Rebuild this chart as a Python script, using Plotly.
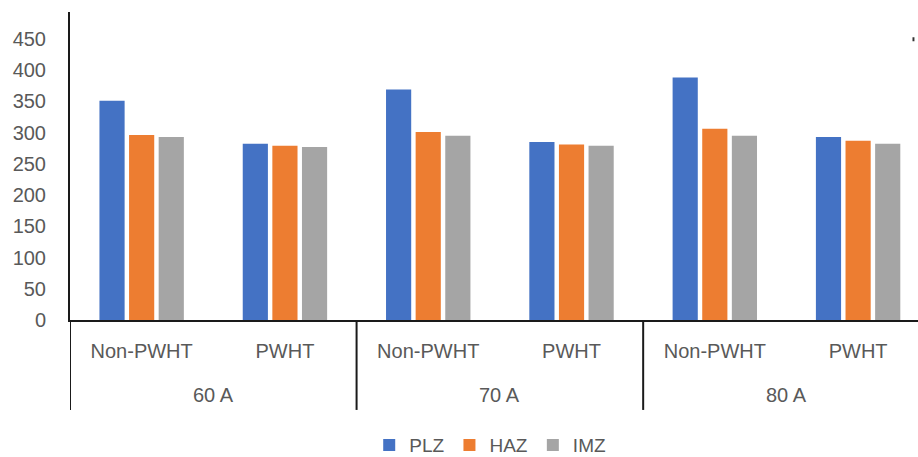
import plotly.graph_objects as go

# Welding current groups and heat-treatment condition for each bar cluster
currents = ["60 A", "70 A", "80 A"]
conditions = ["Non-PWHT", "PWHT", "Non-PWHT", "PWHT", "Non-PWHT", "PWHT"]

# Hardness per zone
plz = [351, 282, 369, 285, 388, 293]
haz = [296, 279, 301, 281, 306, 287]
imz = [293, 277, 295, 279, 295, 282]

y_ticks = [0, 50, 100, 150, 200, 250, 300, 350, 400, 450]

series = [
    ("PLZ", plz, "#4472C4"),
    ("HAZ", haz, "#ED7D31"),
    ("IMZ", imz, "#A5A5A5"),
]

FONT = "Liberation Sans, Arial, sans-serif"
TEXT = "#595959"
LINE = "#1a1a1a"

slots = list(range(len(conditions)))
per_group = len(conditions) // len(currents)

fig = go.Figure()
for name, vals, color in series:
    fig.add_trace(go.Bar(
        x=slots,
        y=vals,
        name=name,
        marker=dict(color=color, line=dict(width=0)),
    ))

fig.update_layout(
    width=918,
    height=457,
    margin=dict(l=70, r=0, t=12, b=137),
    paper_bgcolor="white",
    plot_bgcolor="white",
    barmode="group",
    bargap=0.38,
    bargroupgap=0.15,
    font=dict(family=FONT, size=20, color=TEXT),
    showlegend=True,
    legend=dict(
        orientation="h",
        xref="container", yref="container",
        x=0.534, xanchor="center",
        y=0.026, yanchor="middle",
        font=dict(size=19, color=TEXT),
        itemwidth=30,
        traceorder="normal",
    ),
    xaxis=dict(
        range=[-0.5, 5.418],
        tickvals=slots,
        ticktext=conditions,
        automargin=False,
        showline=True,
        linecolor=LINE,
        linewidth=2,
        showgrid=False,
        zeroline=False,
        ticks="",
        ticklabelstandoff=12,
        tickfont=dict(size=20, color=TEXT),
    ),
    yaxis=dict(
        range=[0, 493],
        tickvals=y_ticks,
        automargin=False,
        showline=True,
        linecolor=LINE,
        linewidth=2,
        showgrid=False,
        zeroline=False,
        ticks="",
        ticklabelstandoff=18,
        tickfont=dict(size=20, color=TEXT),
    ),
)

# group dividers below the axis and the outer-level labels
for g, label in enumerate(currents):
    left = g * per_group - 0.5
    fig.add_shape(
        type="line", xref="x", yref="paper",
        x0=left, x1=left, y0=0, y1=-0.292,
        line=dict(color=LINE, width=2),
    )
    fig.add_annotation(
        x=left + per_group / 2, xref="x",
        y=-0.2435, yref="paper", yanchor="middle",
        text=label, showarrow=False,
        font=dict(size=20, color=TEXT),
    )

# small mark near the top-right corner
fig.add_shape(
    type="rect", xref="paper", yref="paper",
    x0=0.9935, x1=0.9958, y0=0.905, y1=0.918,
    fillcolor="#333333", line=dict(width=0),
)

fig.write_html("out.html")
